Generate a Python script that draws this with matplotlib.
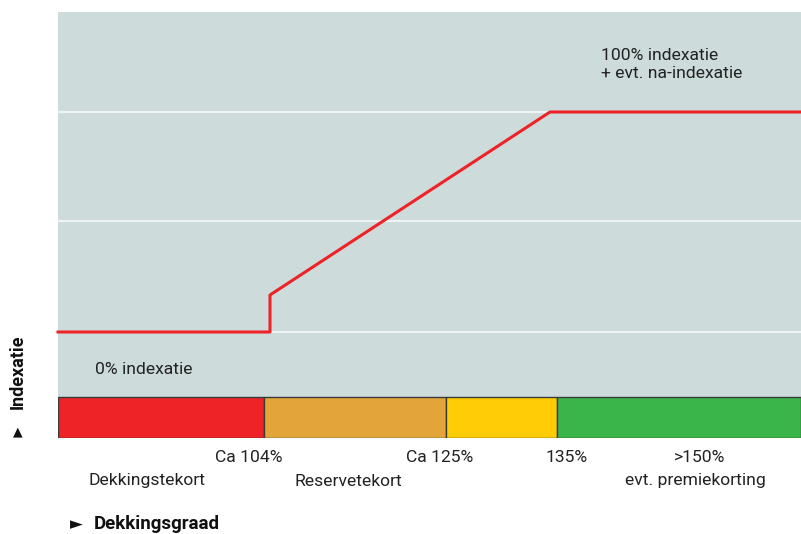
import matplotlib.pyplot as plt

# schematische x-schaal (dekkingsgraad), y-schaal (indexatie)
zone_grenzen = [0, 206, 388, 499, 743]
zone_kleuren = ['#ee2328', '#e3a53a', '#ffcc05', '#3ab54a']
grens_labels = ['Ca 104%', 'Ca 125%', '135%', '>150%']
grens_label_x = [191, 382, 509, 642]
zone_namen = ['Dekkingstekort', 'Reservetekort', 'evt. premiekorting']
zone_naam_x = [89, 290, 637]

lijn_x = [0, 212, 212, 492, 743]
lijn_y = [65, 65, 102, 285, 285]
rasterlijnen = [65, 176, 285]

plt.rcParams['font.family'] = ['Roboto', 'DejaVu Sans']
fs = 12.6

fig = plt.figure(figsize=(8.01, 5.34), dpi=100)
ax = fig.add_axes([58 / 801, (534 - 438) / 534, 743 / 801, (438 - 12) / 534])
ax.set_xlim(0, 743)
ax.set_ylim(-41, 385)
ax.axis('off')

ax.axhspan(0, 385, color='#cddbdb', lw=0, zorder=0)
for y in rasterlijnen:
    ax.axhline(y, color='#eef3f3', lw=1.5, zorder=1)

for i, kleur in enumerate(zone_kleuren):
    ax.barh(-20.5, zone_grenzen[i + 1] - zone_grenzen[i], left=zone_grenzen[i],
            height=41, color=kleur, edgecolor='#3a3a3a', lw=1, zorder=2)

ax.plot(lijn_x, lijn_y, color='#ee2328', lw=2.2, zorder=3, clip_on=False)

ax.text(37, 27, '0% indexatie', fontsize=fs, color='#222222', va='center')
ax.text(543, 332, '100% indexatie\n+ evt. na-indexatie', fontsize=fs,
        color='#222222', va='center', linespacing=1.25)

for x, t in zip(grens_label_x, grens_labels):
    ax.text(x, -61, t, fontsize=fs, color='#222222', ha='center', va='center')
for x, t in zip(zone_naam_x, zone_namen):
    ax.text(x, -84, t, fontsize=fs, color='#222222', ha='center', va='center')

fig.text(94 / 801, 1 - 524 / 534, 'Dekkingsgraad', fontsize=13.5, fontweight='bold',
         va='center', color='#111111')
fig.text(76 / 801, 1 - 524 / 534, '►', fontsize=12, ha='center', va='center',
         color='#111111', family=['DejaVu Sans'])
fig.text(18 / 801, 1 - 372 / 534, 'Indexatie', fontsize=13, fontweight='bold',
         rotation=90, ha='center', va='center', color='#111111')
fig.text(18 / 801, 1 - 432 / 534, '▲', fontsize=9, ha='center', va='center',
         color='#111111', family=['DejaVu Sans'])

fig.savefig('out.png', dpi=100)
